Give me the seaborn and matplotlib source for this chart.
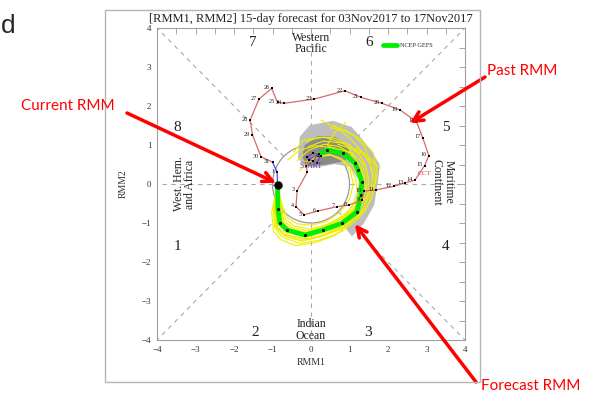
import matplotlib
matplotlib.use('Agg')
import matplotlib.pyplot as plt
from matplotlib.patches import Circle, Polygon, Rectangle
from matplotlib.ticker import MultipleLocator
import seaborn as sns
import numpy as np
import pandas as pd

# observed RMM (past 40 days)
sep_days = [24, 25, 26, 27, 28, 29, 30]
sep_x = [0.15, 0.25, 0.05, -0.10, 0.05, 0.20, -0.05]
sep_y = [0.55, 0.72, 0.80, 0.68, 0.58, 0.78, 0.62]

oct_days = list(range(1, 32))
oct_x = [-0.12, -0.10, -0.36, -0.39, -0.18, 0.19, 0.68, 0.98, 1.32, 1.38, 1.70,
         2.15, 2.45, 2.70, 2.95, 3.06, 2.90, 2.74, 2.31, 1.84, 1.30, 0.88, 0.09,
         -0.69, -0.87, -1.02, -1.35, -1.58, -1.52, -1.30, -1.00]
oct_y = [0.45, 0.30, -0.17, -0.58, -0.79, -0.69, -0.58, -0.54, -0.42, -0.18, -0.15,
         -0.06, 0.03, 0.10, 0.47, 0.73, 1.19, 1.60, 1.90, 2.07, 2.22, 2.39, 2.18,
         2.07, 2.09, 2.45, 2.18, 1.64, 1.26, 0.70, 0.56]

nov_days = [1, 2]
nov_x = [-0.88, -0.87]
nov_y = [0.31, -0.03]

# NCEP GEFS ensemble mean forecast
mean_x = [-0.87, -0.86, -0.81, -0.62, -0.16, 0.31, 0.81, 1.19, 1.30, 1.32, 1.22,
          1.14, 0.83, 0.42, 0.18]
mean_y = [-0.03, -0.64, -1.00, -1.18, -1.31, -1.18, -1.00, -0.72, -0.28, 0.05, 0.36,
          0.54, 0.79, 0.87, 0.74]

# ensemble members
members_x = [
    [-0.87, -0.95, -0.92, -0.72, -0.22, 0.30, 0.85, 1.30, 1.47, 1.50, 1.40, 1.18, 0.80, 0.32, -0.08],
    [-0.87, -0.80, -0.70, -0.48, -0.08, 0.36, 0.78, 1.08, 1.20, 1.16, 1.00, 0.78, 0.48, 0.14, -0.18],
    [-0.87, -0.92, -0.86, -0.56, -0.04, 0.46, 0.96, 1.32, 1.42, 1.32, 1.10, 0.74, 0.34, -0.06, -0.36],
    [-0.87, -0.88, -0.80, -0.60, -0.14, 0.38, 0.92, 1.40, 1.62, 1.72, 1.62, 1.32, 0.92, 0.52, 0.26],
    [-0.87, -0.76, -0.62, -0.36, 0.00, 0.40, 0.76, 1.00, 1.10, 1.02, 0.82, 0.52, 0.20, -0.10, -0.30],
    [-0.87, -0.90, -0.82, -0.62, -0.18, 0.28, 0.78, 1.18, 1.34, 1.28, 1.02, 0.62, 0.12, -0.30, -0.60],
    [-0.87, -0.98, -0.95, -0.75, -0.30, 0.22, 0.80, 1.26, 1.56, 1.66, 1.56, 1.34, 1.06, 0.80, 0.58],
    [-0.87, -0.84, -0.74, -0.52, -0.12, 0.30, 0.74, 1.14, 1.34, 1.40, 1.30, 1.06, 0.70, 0.36, 0.06],
    [-0.87, -0.93, -0.88, -0.66, -0.26, 0.22, 0.70, 1.10, 1.30, 1.36, 1.26, 1.02, 1.18, 1.50, 1.80],
    [-0.87, -0.82, -0.72, -0.50, -0.10, 0.34, 0.82, 1.22, 1.44, 1.46, 1.30, 1.00, 0.60, 0.20, -0.12],
    [-0.87, -0.86, -0.78, -0.58, -0.18, 0.26, 0.72, 1.12, 1.28, 1.24, 1.04, 0.74, 0.42, 0.60, 0.90],
    [-0.87, -0.94, -0.90, -0.70, -0.24, 0.28, 0.84, 1.28, 1.52, 1.60, 1.52, 1.38, 1.12, 0.78, 0.50],
    [-0.87, -1.02, -0.98, -0.80, -0.40, 0.12, 0.62, 1.02, 1.20, 1.46, 1.70, 1.62, 1.30, 1.00, 0.70],
    [-0.87, -0.78, -0.66, -0.44, -0.02, 0.44, 0.90, 1.16, 1.38, 1.30, 1.12, 0.90, 0.36, -0.20, -0.45],
]
members_y = [
    [-0.03, -0.62, -1.08, -1.28, -1.42, -1.32, -1.10, -0.78, -0.30, 0.12, 0.52, 0.86, 1.05, 1.10, 0.95],
    [-0.03, -0.55, -0.95, -1.12, -1.20, -1.06, -0.86, -0.58, -0.20, 0.16, 0.46, 0.66, 0.76, 0.70, 0.55],
    [-0.03, -0.70, -1.12, -1.32, -1.42, -1.26, -0.96, -0.55, -0.10, 0.36, 0.72, 0.96, 1.02, 0.86, 0.60],
    [-0.03, -0.66, -1.05, -1.24, -1.36, -1.24, -1.02, -0.70, -0.22, 0.30, 0.80, 1.12, 1.36, 1.50, 1.64],
    [-0.03, -0.50, -0.86, -1.02, -1.06, -0.96, -0.72, -0.40, 0.00, 0.34, 0.60, 0.74, 0.70, 0.54, 0.34],
    [-0.03, -0.64, -1.02, -1.20, -1.30, -1.20, -1.00, -0.68, -0.24, 0.28, 0.70, 0.92, 0.98, 0.86, 0.62],
    [-0.03, -0.60, -1.10, -1.36, -1.52, -1.44, -1.22, -0.86, -0.40, 0.06, 0.46, 0.82, 1.12, 1.34, 1.52],
    [-0.03, -0.58, -0.98, -1.18, -1.26, -1.14, -0.92, -0.60, -0.16, 0.24, 0.58, 0.80, 0.90, 0.84, 0.70],
    [-0.03, -0.68, -1.14, -1.34, -1.46, -1.36, -1.16, -0.82, -0.38, 0.04, 0.44, 0.70, 0.92, 0.70, 0.40],
    [-0.03, -0.60, -1.00, -1.16, -1.24, -1.10, -0.88, -0.56, -0.14, 0.30, 0.70, 1.00, 1.18, 1.20, 1.08],
    [-0.03, -0.62, -1.04, -1.22, -1.32, -1.22, -1.00, -0.66, -0.22, 0.20, 0.56, 0.82, 1.00, 1.30, 1.58],
    [-0.03, -0.66, -1.10, -1.32, -1.46, -1.34, -1.14, -0.76, -0.30, 0.16, 0.62, 0.98, 1.24, 1.40, 1.44],
    [-0.03, -0.72, -1.20, -1.42, -1.58, -1.50, -1.32, -1.00, -0.62, -0.30, 0.10, 0.52, 0.80, 0.92, 1.02],
    [-0.03, -0.52, -0.90, -1.08, -1.16, -1.04, -0.78, -0.44, -0.02, 0.40, 0.68, 1.02, 1.20, 1.12, 0.82],
]

# ensemble spread areas (90% light, 50% dark)
spread90 = [(-0.29, 1.21), (-0.03, 1.51), (0.57, 1.62), (1.06, 1.46), (1.35, 1.13),
            (1.61, 0.79), (1.79, 0.49), (1.74, 0.05), (1.64, -0.54), (1.38, -1.00),
            (1.06, -1.35), (0.83, -1.03), (1.14, -0.54), (1.25, 0.10), (1.01, 0.44),
            (0.62, 0.51), (0.23, 0.44), (-0.16, 0.44), (-0.34, 0.67)]
spread50 = [(-0.16, 1.00), (0.18, 1.23), (0.62, 1.21), (0.96, 1.00), (1.06, 0.69),
            (0.75, 0.56), (0.36, 0.49), (-0.08, 0.46), (-0.23, 0.69)]

sns.set_style('white')
plt.rcParams['font.family'] = ['Liberation Serif', 'DejaVu Serif']

fig = plt.figure(figsize=(5.89, 3.94), dpi=100)
ax = fig.add_axes([157 / 589, 1 - 340 / 394, 308 / 589, 312 / 394])

# outer picture frame
fig.add_artist(Rectangle((0.178, 0.030), 0.637, 0.945, transform=fig.transFigure,
                         fill=False, edgecolor='#b5b5b5', lw=1))

# guide lines
gcol = '#a8a8a8'
for sx, sy in [(1, 1), (1, -1), (-1, 1), (-1, -1)]:
    ax.plot([sx / np.sqrt(2), 4 * sx], [sy / np.sqrt(2), 4 * sy], ls=(0, (4, 4)), color=gcol, lw=0.8, zorder=1)
for sx, sy in [(1, 0), (-1, 0), (0, 1), (0, -1)]:
    ax.plot([sx, 4 * sx], [sy, 4 * sy], ls=(0, (4, 4)), color=gcol, lw=0.8, zorder=1)
ax.add_patch(Circle((0, 0), 1, fill=False, edgecolor='#999999', lw=0.9, zorder=1))

# spread
ax.add_patch(Polygon(spread90, closed=True, facecolor='#bdbdbd', edgecolor='none', zorder=2))
ax.add_patch(Polygon(spread50, closed=True, facecolor='#8a8a8a', edgecolor='none', zorder=2))

# members
rows = []
for i, (mx, my) in enumerate(zip(members_x, members_y)):
    for d, (a, b) in enumerate(zip(mx, my)):
        rows.append({'member': i, 'day': d, 'x': a, 'y': b})
ens = pd.DataFrame(rows)
sns.lineplot(data=ens, x='x', y='y', units='member', estimator=None, sort=False,
             color='#eeee00', lw=0.8, ax=ax, zorder=3)

# ensemble mean
sns.lineplot(x=mean_x, y=mean_y, sort=False, estimator=None, color='#00ee00', lw=3.4,
             ax=ax, zorder=4, label='NCEP GEFS')
sns.scatterplot(x=mean_x, y=mean_y, color='black', s=5, linewidth=0, ax=ax, zorder=5)

# observed path
sns.lineplot(x=sep_x, y=sep_y, sort=False, estimator=None, color='#7a3fc0', lw=0.8, ax=ax, zorder=6)
sns.lineplot(x=[sep_x[-1]] + oct_x, y=[sep_y[-1]] + oct_y, sort=False, estimator=None,
             color='#d86a6a', lw=0.9, ax=ax, zorder=6)
sns.lineplot(x=[oct_x[-1]] + nov_x, y=[oct_y[-1]] + nov_y, sort=False, estimator=None,
             color='#4a4aff', lw=0.9, ax=ax, zorder=6)
all_x = sep_x + oct_x + nov_x
all_y = sep_y + oct_y + nov_y
sns.scatterplot(x=all_x, y=all_y, color='black', marker='s', s=3, linewidth=0, ax=ax, zorder=7)
ax.plot(nov_x[-1], nov_y[-1], 'o', color='black', ms=5, zorder=8)

for d, a, b in zip(oct_days[2:] + nov_days, oct_x[2:] + nov_x, oct_y[2:] + nov_y):
    ax.annotate(str(d), (a, b), xytext=(-1.5, 0.5), textcoords='offset points',
                ha='right', va='center', fontsize=4.5, color='#222222', zorder=9)
ax.text(oct_x[0] + 0.12, oct_y[0], 'START', color='#6a3db0', fontsize=5.5,
        ha='center', va='center', zorder=9)
ax.text(oct_x[14] + 0.0, oct_y[14] - 0.2, 'OCT', color='#d04040', fontsize=5,
        ha='center', va='center', zorder=9)

# phase labels
pk = dict(fontsize=11, ha='center', va='center', color='#222222')
ax.text(-1.5, 3.62, '7', **pk)
ax.text(1.5, 3.62, '6', **pk)
ax.text(-3.48, 1.45, '8', **pk)
ax.text(3.5, 1.45, '5', **pk)
ax.text(-3.48, -1.6, '1', **pk)
ax.text(3.5, -1.6, '4', **pk)
ax.text(-1.45, -3.82, '2', **pk)
ax.text(1.48, -3.82, '3', **pk)
rk = dict(fontsize=8.5, ha='center', va='center', color='#222222', linespacing=0.95)
ax.text(0, 3.6, 'Western\nPacific', **rk)
ax.text(0, -3.75, 'Indian\nOcean', **rk)
ax.text(-3.28, 0, 'West. Hem.\nand Africa', rotation=90, **rk)
ax.text(3.42, 0.05, 'Maritime\nContinent', rotation=270, **rk)

ax.legend(loc='center left', bbox_to_anchor=(0.735, 0.945), fontsize=4.5, frameon=False,
          handlelength=2.2, handletextpad=0.5, borderaxespad=0, borderpad=0)

# axes styling
ax.set_xlim(-4, 4)
ax.set_ylim(-4, 4)
ax.xaxis.set_major_locator(MultipleLocator(1))
ax.yaxis.set_major_locator(MultipleLocator(1))
ax.xaxis.set_minor_locator(MultipleLocator(0.5))
ax.yaxis.set_minor_locator(MultipleLocator(0.5))
ax.xaxis.set_major_formatter('{x:.0f}')
ax.yaxis.set_major_formatter('{x:.0f}')
ax.tick_params(which='both', direction='in', top=True, right=True, length=4,
               width=0.6, color='#999999', labelsize=6.5, labelcolor='#333333', pad=4)
for s in ax.spines.values():
    s.set_color('#a0a0a0')
    s.set_linewidth(0.8)
ax.set_xlabel('RMM1', fontsize=7, color='#333333', labelpad=3)
ax.set_ylabel('RMM2', fontsize=7, color='#333333', labelpad=10)
ax.set_title('[RMM1, RMM2] 15-day forecast for 03Nov2017 to 17Nov2017', fontsize=9,
             color='#222222', pad=4)

# slide annotations
fig.text(8 / 589, 1 - 26 / 394, 'd', fontsize=19, family='Liberation Sans', ha='center', va='center')
ak = dict(arrowstyle='->,head_length=0.7,head_width=0.35', color='#ff0000', lw=2.5, shrinkA=0, shrinkB=0)
ax.annotate('', xy=(-0.91, 0.03), xytext=(127 / 589, 1 - 113 / 394), textcoords='figure fraction',
            arrowprops=ak, annotation_clip=False, zorder=10)
ax.annotate('', xy=(2.57, 1.56), xytext=(485 / 589, 1 - 77 / 394), textcoords='figure fraction',
            arrowprops=ak, annotation_clip=False, zorder=10)
ax.annotate('', xy=(1.14, -1.03), xytext=(476 / 589, 1 - 382 / 394), textcoords='figure fraction',
            arrowprops=ak, annotation_clip=False, zorder=10)
tk = dict(fontsize=11, family='Lato', color='#ff0000', ha='center', va='center')
fig.text(68 / 589, 1 - 106 / 394, 'Current RMM', **tk)
fig.text(522 / 589, 1 - 71 / 394, 'Past RMM', **tk)
fig.text(531 / 589, 1 - 386 / 394, 'Forecast RMM', **tk)

fig.savefig('out.png', dpi=100)
